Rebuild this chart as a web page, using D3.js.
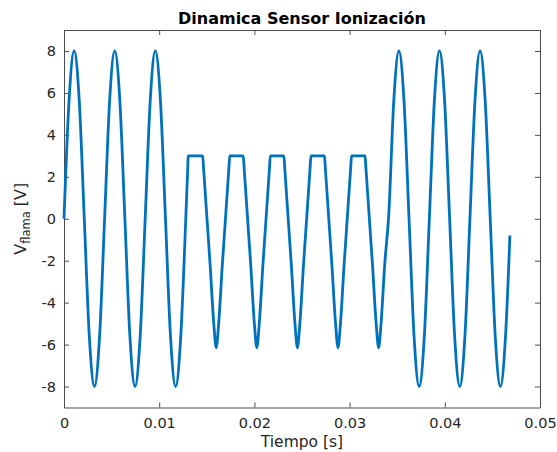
<!DOCTYPE html>
<html>
<head>
<meta charset="utf-8">
<script src="https://cdn.jsdelivr.net/npm/d3@7"></script>
<style>
  body { margin: 0; background: #fff; }
  text { font-family: "DejaVu Sans", sans-serif; fill: #262626; }
</style>
</head>
<body>
<div id="chart"></div>
<script>
// tiempo [s] y tension [V]
var tiempo = [
  0, 0.000533, 0.001066, 0.001599, 0.002132, 0.002665, 0.003198, 0.003731,
  0.004264, 0.004797, 0.005330, 0.005863, 0.006396, 0.006929, 0.007462, 0.007995,
  0.008528, 0.009061, 0.009594, 0.010127, 0.010660, 0.011193, 0.011726, 0.012259,
  0.012792, 0.012984, 0.013052, 0.014569,
  0.014654, 0.015350, 0.015734, 0.015990, 0.016246, 0.016630, 0.017326, 0.017411, 0.018833,
  0.018918, 0.019614, 0.019998, 0.020254, 0.020510, 0.020894, 0.021590, 0.021675, 0.023097,
  0.023182, 0.023878, 0.024262, 0.024518, 0.024774, 0.025158, 0.025854, 0.025939, 0.027361,
  0.027446, 0.028142, 0.028526, 0.028782, 0.029038, 0.029422, 0.030118, 0.030203, 0.031625,
  0.031710, 0.032406, 0.032790, 0.033046, 0.033302, 0.033686,
  0.034112, 0.034645, 0.035178, 0.035711, 0.036244, 0.036777, 0.037310, 0.037843,
  0.038376, 0.038909, 0.039442, 0.039975, 0.040508, 0.041041, 0.041574, 0.042107,
  0.042640, 0.043173, 0.043706, 0.044239, 0.044772, 0.045305, 0.045838, 0.046371,
  0.046840
];
var vflama = [
  0, 5.66, 8, 5.66, 0, -5.66, -8, -5.66,
  0, 5.66, 8, 5.66, 0, -5.66, -8, -5.66,
  0, 5.66, 8, 5.66, 0, -5.66, -8, -5.66,
  0, 2.25, 3, 3,
  2.45, -2.2, -5.0, -6.15, -5.0, -2.2, 2.45, 3, 3,
  2.45, -2.2, -5.0, -6.15, -5.0, -2.2, 2.45, 3, 3,
  2.45, -2.2, -5.0, -6.15, -5.0, -2.2, 2.45, 3, 3,
  2.45, -2.2, -5.0, -6.15, -5.0, -2.2, 2.45, 3, 3,
  2.45, -2.2, -5.0, -6.15, -5.0, -2.2,
  0.2, 5.66, 8, 5.66, 0, -5.66, -8, -5.66,
  0, 5.66, 8, 5.66, 0, -5.66, -8, -5.66,
  0, 5.66, 8, 5.66, 0, -5.66, -8, -5.66,
  -0.8
];
var xTicks = [0, 0.01, 0.02, 0.03, 0.04, 0.05];
var xTickLabels = ["0", "0.01", "0.02", "0.03", "0.04", "0.05"];
var yTicks = [-8, -6, -4, -2, 0, 2, 4, 6, 8];
var yTickLabels = ["-8", "-6", "-4", "-2", "0", "2", "4", "6", "8"];

var width = 557, height = 452;
var mLeft = 64, mRight = 540, mTop = 30, mBottom = 407.5;

var svg = d3.select("#chart").append("svg")
    .attr("width", width)
    .attr("height", height);

var x = d3.scaleLinear().domain([0, 0.05]).range([mLeft, mRight]);
var y = d3.scaleLinear().domain([-9, 9]).range([mBottom, mTop]);

var datos = tiempo.map(function(t, i) { return { t: t, v: vflama[i] }; });

// caja y ticks (hacia dentro, en los cuatro lados)
var axisColor = "#4d4d4d";

var gx = svg.append("g")
    .attr("transform", "translate(0," + mBottom + ")")
    .call(d3.axisBottom(x).tickValues(xTicks).tickSizeInner(-5).tickSizeOuter(0)
        .tickFormat(function(d, i) { return xTickLabels[i]; }));
gx.selectAll("text").attr("y", 10).attr("dy", "0.71em").style("font-size", "14.5px");

var gxTop = svg.append("g")
    .attr("transform", "translate(0," + mTop + ")")
    .call(d3.axisTop(x).tickValues(xTicks).tickSizeInner(-5).tickSizeOuter(0).tickFormat(""));

var gy = svg.append("g")
    .attr("transform", "translate(" + mLeft + ",0)")
    .call(d3.axisLeft(y).tickValues(yTicks).tickSizeInner(-5).tickSizeOuter(0)
        .tickFormat(function(d, i) { return yTickLabels[i]; }));
gy.selectAll("text").attr("x", -8).style("font-size", "14.5px");

var gyRight = svg.append("g")
    .attr("transform", "translate(" + mRight + ",0)")
    .call(d3.axisRight(y).tickValues(yTicks).tickSizeInner(-5).tickSizeOuter(0).tickFormat(""));

svg.selectAll(".domain").attr("stroke", axisColor);
svg.selectAll(".tick line").attr("stroke", axisColor);
svg.selectAll(".tick text").attr("fill", "#262626").style("font-family", "DejaVu Sans, sans-serif");

// senal
var linea = d3.line()
    .x(function(d) { return x(d.t); })
    .y(function(d) { return y(d.v); })
    .curve(d3.curveMonotoneX);

svg.append("path")
    .datum(datos)
    .attr("d", linea)
    .attr("fill", "none")
    .attr("stroke", "#0072BD")
    .attr("stroke-width", 2.8)
    .attr("stroke-linejoin", "round");

// textos
svg.append("text")
    .attr("x", (mLeft + mRight) / 2)
    .attr("y", 24)
    .attr("text-anchor", "middle")
    .style("font-weight", "bold")
    .style("font-size", "16px")
    .style("fill", "#000")
    .text("Dinamica Sensor Ionización");

svg.append("text")
    .attr("x", (mLeft + mRight) / 2)
    .attr("y", 447)
    .attr("text-anchor", "middle")
    .style("font-size", "15.5px")
    .text("Tiempo [s]");

var ylab = svg.append("text")
    .attr("transform", "translate(26," + ((mTop + mBottom) / 2) + ") rotate(-90)")
    .attr("text-anchor", "middle")
    .style("font-size", "16px");
ylab.append("tspan").text("V");
ylab.append("tspan").attr("dy", 4).style("font-size", "11.5px").text("flama");
ylab.append("tspan").attr("dy", -4).text(" [V]");
</script>
</body>
</html>
